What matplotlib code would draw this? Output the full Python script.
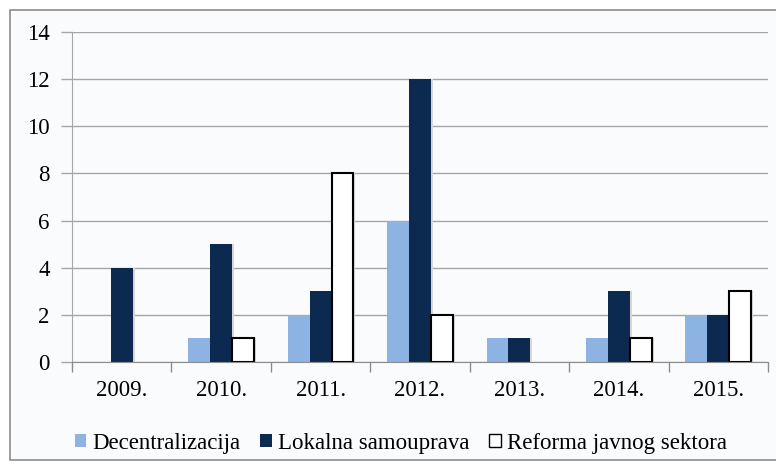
import numpy as np
import matplotlib.pyplot as plt
from matplotlib.patches import Rectangle

# Data
years = ['2009.', '2010.', '2011.', '2012.', '2013.', '2014.', '2015.']
decentralizacija = [0, 1, 2, 6, 1, 1, 2]
lokalna = [4, 5, 3, 12, 1, 3, 2]
reforma = [0, 1, 8, 2, 0, 1, 3]

plt.rcParams['font.family'] = ['Liberation Serif', 'DejaVu Serif']
fs = 16.5

fig = plt.figure(figsize=(7.76, 4.66), dpi=100)
fig.patch.set_facecolor('white')
# outer chart border
fig.patches.append(Rectangle((10 / 776, 6 / 466), 1.0, 450 / 466, transform=fig.transFigure,
                             facecolor='#fafbfd', edgecolor='#8c8c8c', linewidth=1.2, zorder=-5))

ax = fig.add_axes([72 / 776, 1 - 362 / 466, (768 - 72) / 776, (362 - 32) / 466])
ax.set_facecolor('#fafbfd')

x = np.arange(len(years))
w = 0.22
light = '#8db3e2'
dark = '#0c2a50'

series = [(-w, np.array(decentralizacija)), (0, np.array(lokalna)), (w, np.array(reforma))]

# soft grey shadow behind each bar
for off, vals in series:
    keep = vals > 0
    ax.bar(x[keep] + off + 0.02, vals[keep], w, color='#d6d6d6', zorder=1)

ax.bar(x - w, decentralizacija, w, color=light, zorder=2, label='Decentralizacija')
ax.bar(x, lokalna, w, color=dark, zorder=2, label='Lokalna samouprava')
ref = np.array(reforma)
keep = ref > 0
ax.bar(x[keep] + w, ref[keep], w, color='white', edgecolor='black', linewidth=1.5, zorder=2,
       label='Reforma javnog sektora')

ax.set_xlim(-0.5, len(years) - 0.5)
ax.set_ylim(0, 14)
ax.set_yticks(range(0, 15, 2))
ax.yaxis.grid(True, color='#a6a6a6', linewidth=1)
ax.set_axisbelow(True)

ax.set_xticks(x)
ax.set_xticklabels(years)
ax.set_xticks(np.arange(-0.5, len(years), 1), minor=True)
ax.tick_params(axis='x', which='major', length=0, pad=13, labelsize=fs)
ax.tick_params(axis='x', which='minor', length=7, color='#8c8c8c', width=1)
ax.tick_params(axis='y', length=8, color='#a6a6a6', width=1, labelsize=fs, pad=8)

for s in ['top', 'right']:
    ax.spines[s].set_visible(False)
ax.spines['left'].set_color('#a6a6a6')
ax.spines['bottom'].set_color('#8c8c8c')

leg = fig.legend(*ax.get_legend_handles_labels(), loc='center',
                 bbox_to_anchor=(401 / 776, 1 - 443 / 466),
                 ncol=3, frameon=False, fontsize=fs, handlelength=0.5, handleheight=0.5,
                 handletextpad=0.28, columnspacing=0.85, borderaxespad=0, borderpad=0)
for h in leg.legend_handles:
    h.set_linewidth(1.0)

fig.savefig('out.png', dpi=100, facecolor=fig.get_facecolor())
